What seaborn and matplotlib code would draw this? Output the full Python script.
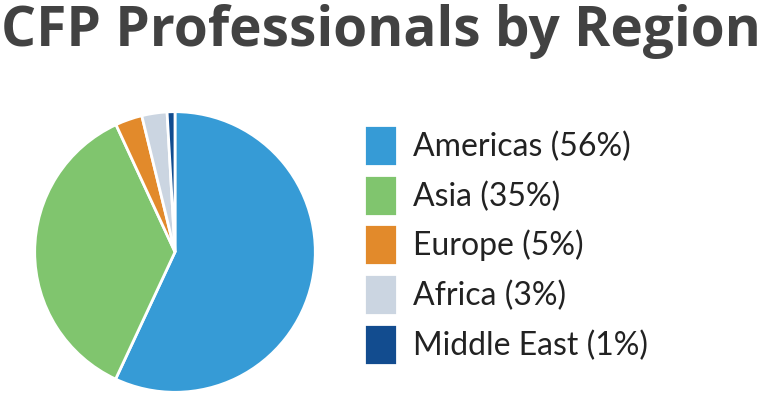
import matplotlib
matplotlib.use("Agg")
import matplotlib.pyplot as plt
import seaborn as sns

# data
regions = ["Americas", "Asia", "Europe", "Africa", "Middle East"]
label_pct = [56, 35, 5, 3, 1]               # as printed in the legend
slice_share = [56.9, 36.1, 3.1, 2.9, 0.9]  # slice sizes as drawn
colors = ["#369bd6", "#80c56e", "#e28a2b", "#cbd5e1", "#124c8f"]

sns.set_theme(style="white")
plt.rcParams["font.family"] = ["Lato", "DejaVu Sans"]

fig = plt.figure(figsize=(7.68, 4.0), dpi=100)
ax = fig.add_axes([34 / 768, 7 / 400, 282 / 768, 282 / 400])

wedges, _ = ax.pie(slice_share, colors=colors, startangle=90, counterclock=False,
                   radius=1.0, wedgeprops=dict(edgecolor="white", linewidth=2))
ax.set_xlim(-1.005, 1.005)
ax.set_ylim(-1.005, 1.005)
ax.set_aspect("equal")
ax.axis("off")

fig.text(1 / 768, 1 - 46 / 400, "CFP Professionals by Region", fontsize=39.6,
         fontweight="bold", family=["Open Sans", "DejaVu Sans"], color="#424242",
         ha="left", va="baseline")

labels = [f"{r} ({p}%)" for r, p in zip(regions, label_pct)]
fig.legend(wedges, labels, loc="upper left", bbox_to_anchor=(364 / 768, 1 - 125 / 400),
           frameon=False, fontsize=23, handlelength=1.03, handleheight=1.6,
           handletextpad=0.5, labelspacing=0.27, labelcolor="#222222",
           borderaxespad=0, borderpad=0)

fig.savefig("out.png", dpi=100, facecolor="white")
